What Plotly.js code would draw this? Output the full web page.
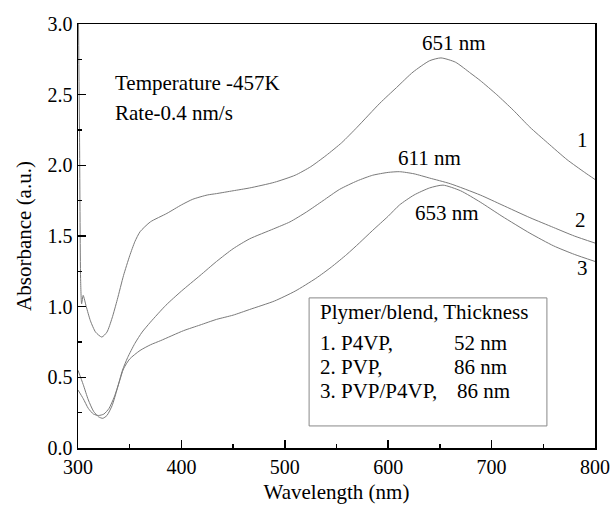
<!DOCTYPE html>
<html>
<head>
<meta charset="utf-8">
<script src="https://cdn.plot.ly/plotly-3.0.1.min.js"></script>
<style>html,body{margin:0;padding:0;background:#fff;}#chart{width:613px;height:506px;}</style>
</head>
<body>
<div id="chart"></div>
<script>
// Curve 1: P4VP, 52 nm
const wl1 = [300.5,301.5,302.5,303.5,305,308,312,317,323,328,333,338,344,350,355,360,370,386,400,411,425,434,450,466,490,510,525,540,555,570,592,608,624,640,651,665,680,689,705,721,737,754,773,790,800];
const abs1 = [3.0,2.2,1.2,1.02,1.08,1.0,0.9,0.82,0.785,0.82,0.92,1.05,1.22,1.36,1.46,1.53,1.6,1.66,1.72,1.76,1.79,1.80,1.82,1.84,1.88,1.93,1.99,2.07,2.16,2.27,2.44,2.55,2.66,2.74,2.76,2.73,2.65,2.60,2.50,2.39,2.27,2.16,2.04,1.95,1.90];
// Curve 2: PVP, 86 nm
const wl2 = [300,305,310,315,320,324,328,333,338,343,348,355,362,370,385,400,418,434,450,466,489,505,521,537,553,570,585,600,611,625,640,660,689,710,737,760,780,800];
const abs2 = [0.55,0.45,0.34,0.26,0.22,0.21,0.23,0.30,0.42,0.55,0.64,0.74,0.82,0.89,1.01,1.11,1.22,1.32,1.41,1.48,1.55,1.60,1.67,1.75,1.83,1.89,1.93,1.95,1.955,1.94,1.91,1.87,1.79,1.72,1.63,1.56,1.50,1.45];
// Curve 3: PVP/P4VP, 86 nm
const wl3 = [300,305,310,315,320,325,330,335,340,344,350,360,370,380,402,418,434,450,466,490,510,530,545,560,572,585,600,611,625,640,653,670,689,710,737,760,780,800];
const abs3 = [0.41,0.35,0.28,0.24,0.23,0.24,0.28,0.36,0.47,0.56,0.63,0.69,0.73,0.76,0.83,0.87,0.91,0.94,0.98,1.04,1.11,1.20,1.28,1.37,1.45,1.54,1.64,1.72,1.79,1.84,1.86,1.82,1.74,1.64,1.52,1.43,1.37,1.32];

const xTicks = [300,400,500,600,700,800];
const yTicks = [0,0.5,1.0,1.5,2.0,2.5,3.0];

const font = 'Times New Roman, Liberation Serif, DejaVu Serif, serif';
const lineStyle = {color:'#7a7a7a', width:1, shape:'spline', smoothing:0.6};

const traces = [
  {x:wl1, y:abs1, mode:'lines', line:lineStyle, hoverinfo:'skip'},
  {x:wl2, y:abs2, mode:'lines', line:lineStyle, hoverinfo:'skip'},
  {x:wl3, y:abs3, mode:'lines', line:lineStyle, hoverinfo:'skip'}
];

function ann(text, x, y, xanchor, size){
  return {text:text, x:x, y:y, xref:'paper', yref:'paper', xanchor:xanchor||'left', yanchor:'middle',
          showarrow:false, font:{family:font, size:size||21, color:'#000'}};
}

const layout = {
  width:613, height:506,
  margin:{l:78, r:18, t:24, b:58},
  paper_bgcolor:'#fff', plot_bgcolor:'#fff',
  showlegend:false,
  font:{family:font, size:20, color:'#000'},
  xaxis:{
    range:[300,800], tickvals:xTicks, ticktext:xTicks.map(String),
    ticks:'inside', ticklen:8, tickwidth:1.5, tickcolor:'#000',
    minor:{dtick:50, tick0:300, ticks:'inside', ticklen:4, tickwidth:1.5, tickcolor:'#000', showgrid:false},
    showline:true, linecolor:'#000', linewidth:1.5, mirror:true,
    showgrid:false, zeroline:false,
    tickfont:{family:font, size:20, color:'#000'},
    title:{text:'Wavelength (nm)', font:{family:font, size:21, color:'#000'}, standoff:8}
  },
  yaxis:{
    range:[0,3], tickvals:yTicks, ticktext:yTicks.map(v=>v.toFixed(1)),
    ticks:'inside', ticklen:8, tickwidth:1.5, tickcolor:'#000',
    minor:{dtick:0.25, tick0:0, ticks:'inside', ticklen:4, tickwidth:1.5, tickcolor:'#000', showgrid:false},
    showline:true, linecolor:'#000', linewidth:1.5, mirror:true,
    showgrid:false, zeroline:false,
    tickfont:{family:font, size:20, color:'#000'},
    title:{text:'Absorbance (a.u.)', font:{family:font, size:21, color:'#000'}, standoff:10}
  },
  shapes:[
    {type:'rect', xref:'paper', yref:'paper', x0:0.447, x1:0.907, y0:0.052, y1:0.354,
     line:{color:'#888', width:1}, fillcolor:'rgba(0,0,0,0)'}
  ],
  annotations:[
    ann('Temperature -457K', 0.068, 0.861),
    ann('Rate-0.4 nm/s', 0.068, 0.790),
    ann('651 nm', 0.727, 0.955, 'center'),
    ann('611 nm', 0.679, 0.684, 'center'),
    ann('653 nm', 0.714, 0.554, 'center'),
    ann('1', 0.975, 0.726, 'center'),
    ann('2', 0.971, 0.538, 'center'),
    ann('3', 0.975, 0.425, 'center'),
    ann('Plymer/blend, Thickness', 0.464, 0.321),
    ann('1. P4VP,', 0.464, 0.248),
    ann('52 nm', 0.723, 0.248),
    ann('2. PVP,', 0.464, 0.191),
    ann('86 nm', 0.723, 0.191),
    ann('3. PVP/P4VP,', 0.464, 0.134),
    ann('86 nm', 0.729, 0.134)
  ]
};

Plotly.newPlot('chart', traces, layout, {staticPlot:true, displayModeBar:false});
</script>
</body>
</html>
